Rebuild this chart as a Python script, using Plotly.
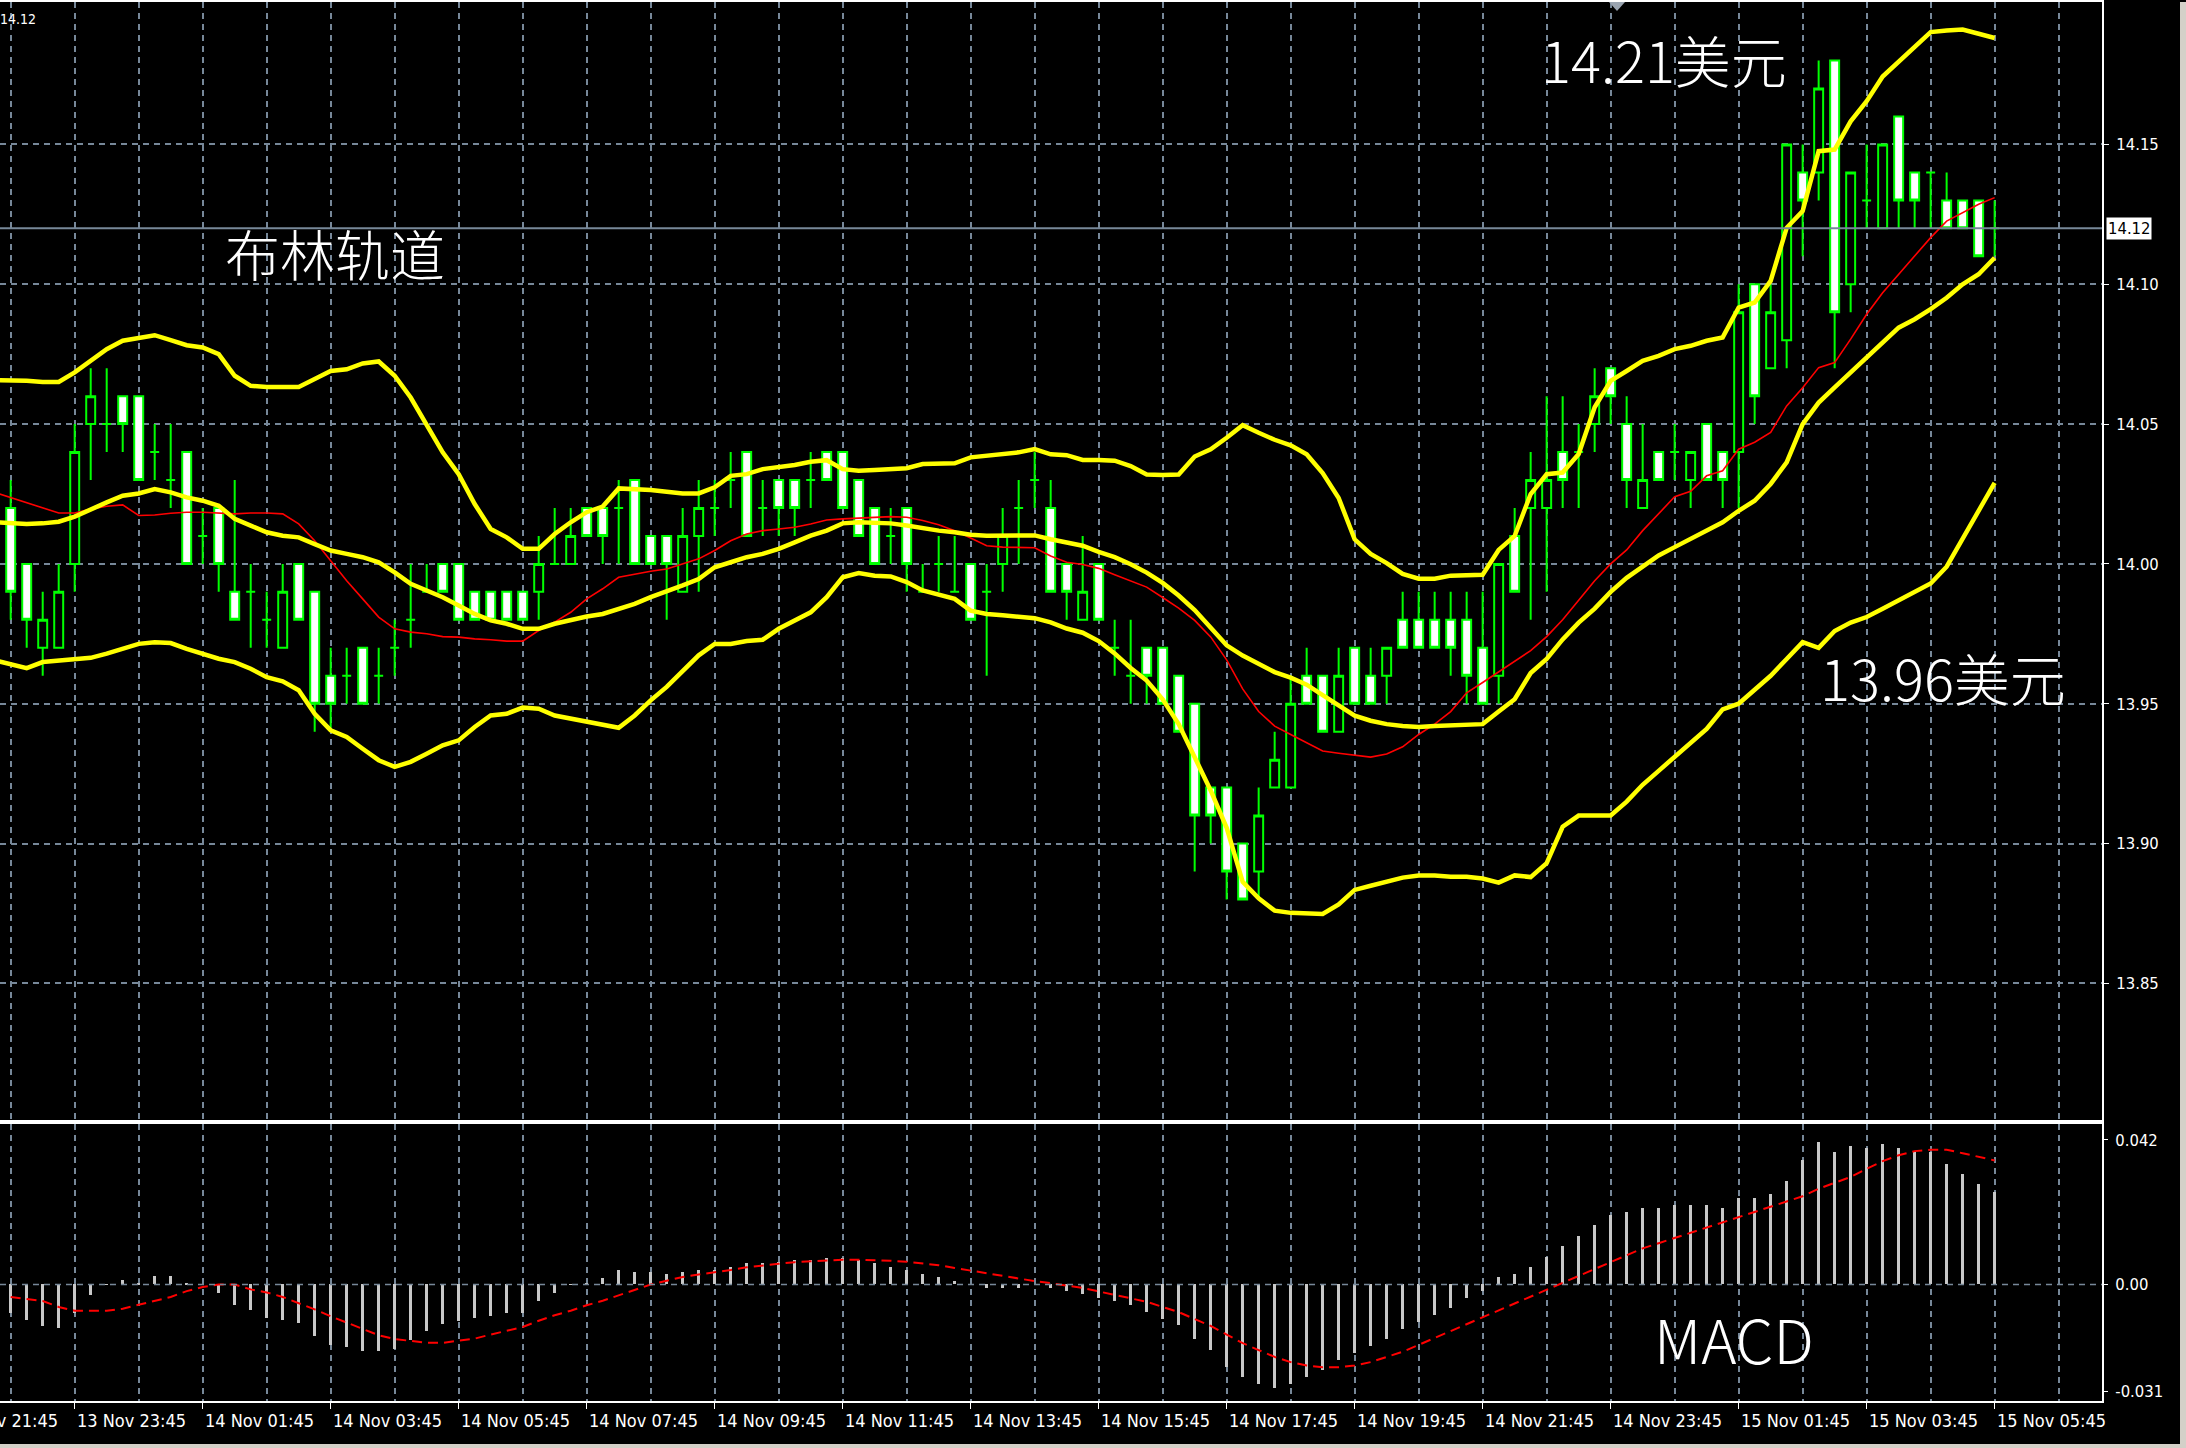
import plotly.graph_objects as go

# ---------------- data ----------------
# candle index 0 = 13 Nov 22:45, one candle per 15 minutes, last = 15 Nov 05:45
OPEN = [14.02, 14.00, 13.97, 13.97, 14.00, 14.05, 14.05, 14.06, 14.06, 14.04,
        14.03, 14.04, 14.01, 14.02, 13.99, 13.99, 13.98, 13.97, 14.00, 13.99,
        13.96, 13.96, 13.97, 13.96, 13.97, 13.98, 13.99, 14.00, 14.00, 13.99,
        13.99, 13.99, 13.99, 13.99, 14.00, 14.00, 14.02, 14.02, 14.02, 14.03,
        14.01, 14.01, 13.99, 14.01, 14.02, 14.03, 14.04, 14.02, 14.03, 14.03,
        14.03, 14.04, 14.04, 14.03, 14.02, 14.01, 14.02, 13.99, 14.00, 13.99,
        14.00, 13.99, 14.00, 14.02, 14.03, 14.02, 14.00, 13.98, 14.00, 13.97,
        13.96, 13.97, 13.97, 13.96, 13.95, 13.92, 13.92, 13.90, 13.89, 13.92,
        13.92, 13.96, 13.96, 13.94, 13.97, 13.96, 13.96, 13.98, 13.98, 13.98,
        13.98, 13.98, 13.97, 13.96, 14.01, 14.02, 14.02, 14.04, 14.04, 14.05,
        14.07, 14.05, 14.02, 14.04, 14.04, 14.03, 14.05, 14.04, 14.04, 14.10,
        14.07, 14.08, 14.14, 14.14, 14.18, 14.10, 14.13, 14.12, 14.16, 14.14,
        14.14, 14.13, 14.13, 14.13, 14.12]
HIGH = [14.03, 14.00, 13.99, 14.00, 14.05, 14.07, 14.07, 14.06, 14.06, 14.05,
        14.05, 14.04, 14.02, 14.02, 14.03, 14.00, 13.99, 14.00, 14.00, 13.99,
        13.97, 13.97, 13.97, 13.97, 13.98, 14.00, 14.00, 14.00, 14.00, 13.99,
        13.99, 13.99, 13.99, 14.01, 14.02, 14.02, 14.02, 14.02, 14.03, 14.03,
        14.01, 14.01, 14.02, 14.03, 14.03, 14.04, 14.04, 14.03, 14.03, 14.03,
        14.04, 14.04, 14.04, 14.03, 14.02, 14.02, 14.02, 14.00, 14.01, 14.01,
        14.00, 14.00, 14.02, 14.03, 14.04, 14.03, 14.00, 14.01, 14.00, 13.98,
        13.98, 13.97, 13.97, 13.96, 13.95, 13.92, 13.92, 13.90, 13.92, 13.94,
        13.96, 13.97, 13.96, 13.97, 13.97, 13.97, 13.97, 13.99, 13.99, 13.99,
        13.99, 13.99, 13.99, 14.00, 14.02, 14.04, 14.06, 14.06, 14.05, 14.07,
        14.07, 14.06, 14.05, 14.04, 14.05, 14.04, 14.05, 14.04, 14.10, 14.10,
        14.10, 14.15, 14.15, 14.18, 14.18, 14.14, 14.15, 14.15, 14.16, 14.14,
        14.14, 14.14, 14.13, 14.13, 14.13]
LOW = [13.98, 13.97, 13.96, 13.97, 13.99, 14.03, 14.04, 14.04, 14.03, 14.03,
       14.02, 14.00, 14.00, 13.99, 13.98, 13.97, 13.97, 13.97, 13.98, 13.94,
       13.94, 13.95, 13.95, 13.95, 13.96, 13.97, 13.99, 13.99, 13.98, 13.98,
       13.98, 13.98, 13.98, 13.98, 14.00, 14.00, 14.01, 14.00, 14.00, 14.00,
       14.00, 13.98, 13.99, 13.99, 14.01, 14.02, 14.01, 14.01, 14.01, 14.01,
       14.02, 14.03, 14.02, 14.01, 14.00, 14.00, 13.99, 13.99, 13.99, 13.99,
       13.98, 13.96, 13.99, 14.00, 14.02, 13.99, 13.98, 13.98, 13.98, 13.96,
       13.95, 13.95, 13.95, 13.94, 13.89, 13.90, 13.88, 13.88, 13.88, 13.92,
       13.92, 13.95, 13.94, 13.94, 13.95, 13.95, 13.95, 13.97, 13.97, 13.97,
       13.96, 13.95, 13.95, 13.95, 13.99, 13.98, 13.99, 14.02, 14.02, 14.04,
       14.05, 14.02, 14.02, 14.03, 14.03, 14.02, 14.03, 14.02, 14.02, 14.05,
       14.07, 14.07, 14.11, 14.13, 14.07, 14.09, 14.12, 14.12, 14.12, 14.12,
       14.12, 14.12, 14.12, 14.11, 14.11]
CLOSE = [13.99, 13.98, 13.98, 13.99, 14.04, 14.06, 14.05, 14.05, 14.03, 14.04,
         14.03, 14.00, 14.01, 14.00, 13.98, 13.99, 13.98, 13.99, 13.98, 13.95,
         13.95, 13.96, 13.95, 13.96, 13.97, 13.98, 13.99, 13.99, 13.98, 13.98,
         13.98, 13.98, 13.98, 14.00, 14.00, 14.01, 14.01, 14.01, 14.02, 14.00,
         14.00, 14.00, 14.01, 14.02, 14.02, 14.03, 14.01, 14.02, 14.02, 14.02,
         14.03, 14.03, 14.02, 14.01, 14.00, 14.01, 14.00, 13.99, 14.00, 13.99,
         13.98, 13.99, 14.01, 14.02, 14.03, 13.99, 13.99, 13.99, 13.98, 13.97,
         13.96, 13.96, 13.95, 13.94, 13.91, 13.91, 13.89, 13.88, 13.91, 13.93,
         13.95, 13.95, 13.94, 13.96, 13.95, 13.95, 13.97, 13.97, 13.97, 13.97,
         13.97, 13.96, 13.95, 14.00, 13.99, 14.03, 14.03, 14.03, 14.04, 14.06,
         14.06, 14.03, 14.03, 14.03, 14.04, 14.04, 14.03, 14.03, 14.09, 14.06,
         14.09, 14.15, 14.13, 14.17, 14.09, 14.14, 14.13, 14.15, 14.13, 14.13,
         14.14, 14.12, 14.12, 14.11, 14.12]

# indicator lines start one bar before the first visible candle (index -1)
BB_UPPER = [14.0657, 14.0657, 14.0655, 14.0651, 14.0651, 14.0685, 14.0729, 14.0768, 14.0798, 14.0806,
            14.0818, 14.0800, 14.0782, 14.0774, 14.0750, 14.0673, 14.0637, 14.0633, 14.0633, 14.0633,
            14.0661, 14.0690, 14.0696, 14.0717, 14.0724, 14.0673, 14.0595, 14.0500, 14.0399, 14.0321,
            14.0214, 14.0125, 14.0095, 14.0054, 14.0054, 14.0107, 14.0149, 14.0185, 14.0205, 14.0270,
            14.0268, 14.0264, 14.0258, 14.0252, 14.0252, 14.0274, 14.0315, 14.0321, 14.0339, 14.0345,
            14.0354, 14.0365, 14.0371, 14.0339, 14.0333, 14.0336, 14.0339, 14.0342, 14.0357, 14.0357,
            14.0360, 14.0381, 14.0387, 14.0393, 14.0399, 14.0411, 14.0392, 14.0389, 14.0372, 14.0372,
            14.0369, 14.0350, 14.0320, 14.0318, 14.0320, 14.0384, 14.0410, 14.0451, 14.0496, 14.0469,
            14.0444, 14.0424, 14.0392, 14.0325, 14.0236, 14.0088, 14.0036, 14.0003, 13.9964, 13.9947,
            13.9947, 13.9958, 13.9961, 13.9961, 14.0050, 14.0100, 14.0250, 14.0321, 14.0327, 14.0393,
            14.0560, 14.0655, 14.0690, 14.0726, 14.0744, 14.0768, 14.0780, 14.0798, 14.0810, 14.0917,
            14.0935, 14.1012, 14.1202, 14.1262, 14.1476, 14.1482, 14.1583, 14.1655, 14.1743, 14.1795,
            14.1850, 14.1902, 14.1908, 14.1911, 14.1896, 14.1881]
BB_MIDDLE = [14.0149, 14.0145, 14.0143, 14.0145, 14.0151, 14.0169, 14.0196, 14.0220, 14.0244, 14.0252,
             14.0268, 14.0256, 14.0238, 14.0226, 14.0208, 14.0161, 14.0137, 14.0113, 14.0101, 14.0095,
             14.0071, 14.0048, 14.0036, 14.0024, 14.0006, 13.9970, 13.9929, 13.9905, 13.9881, 13.9851,
             13.9821, 13.9798, 13.9786, 13.9768, 13.9768, 13.9786, 13.9800, 13.9812, 13.9821, 13.9839,
             13.9857, 13.9881, 13.9901, 13.9923, 13.9946, 13.9988, 14.0006, 14.0024, 14.0036, 14.0054,
             14.0077, 14.0101, 14.0119, 14.0145, 14.0149, 14.0149, 14.0145, 14.0137, 14.0127, 14.0119,
             14.0113, 14.0104, 14.0101, 14.0101, 14.0101, 14.0102, 14.0088, 14.0077, 14.0065, 14.0043,
             14.0024, 13.9999, 13.9969, 13.9932, 13.9887, 13.9835, 13.9769, 13.9709, 13.9672, 13.9642,
             13.9613, 13.9593, 13.9568, 13.9531, 13.9494, 13.9457, 13.9439, 13.9427, 13.9420, 13.9417,
             13.9420, 13.9423, 13.9424, 13.9427, 13.9472, 13.9516, 13.9610, 13.9660, 13.9730, 13.9790,
             13.9840, 13.9900, 13.9950, 13.9990, 14.0030, 14.0060, 14.0089, 14.0119, 14.0149, 14.0190,
             14.0226, 14.0286, 14.0363, 14.0500, 14.0577, 14.0631, 14.0685, 14.0738, 14.0792, 14.0845,
             14.0875, 14.0911, 14.0952, 14.1000, 14.1036, 14.1095]
BB_LOWER = [13.9655, 13.9639, 13.9627, 13.9649, 13.9655, 13.9657, 13.9664, 13.9679, 13.9696, 13.9714,
            13.9720, 13.9717, 13.9696, 13.9679, 13.9661, 13.9649, 13.9625, 13.9595, 13.9580, 13.9548,
            13.9464, 13.9405, 13.9381, 13.9339, 13.9298, 13.9274, 13.9292, 13.9321, 13.9351, 13.9369,
            13.9417, 13.9458, 13.9464, 13.9486, 13.9482, 13.9458, 13.9446, 13.9435, 13.9426, 13.9414,
            13.9458, 13.9512, 13.9560, 13.9619, 13.9673, 13.9714, 13.9714, 13.9724, 13.9729, 13.9768,
            13.9798, 13.9827, 13.9881, 13.9952, 13.9967, 13.9958, 13.9955, 13.9935, 13.9905, 13.9890,
            13.9875, 13.9833, 13.9821, 13.9816, 13.9813, 13.9806, 13.9791, 13.9769, 13.9754, 13.9724,
            13.9680, 13.9628, 13.9583, 13.9516, 13.9427, 13.9309, 13.9190, 13.9056, 13.8863, 13.8804,
            13.8760, 13.8752, 13.8748, 13.8748, 13.8782, 13.8834, 13.8849, 13.8864, 13.8878, 13.8886,
            13.8886, 13.8881, 13.8881, 13.8875, 13.8860, 13.8886, 13.8880, 13.8930, 13.9060, 13.9100,
            13.9100, 13.9100, 13.9150, 13.9210, 13.9260, 13.9310, 13.9360, 13.9410, 13.9480, 13.9500,
            13.9550, 13.9600, 13.9660, 13.9720, 13.9700, 13.9760, 13.9790, 13.9810, 13.9840, 13.9870,
            13.9900, 13.9930, 13.9990, 14.0090, 14.0190, 14.0290]
MA_RED = [14.0256, 14.0238, 14.0220, 14.0202, 14.0182, 14.0182, 14.0196, 14.0206, 14.0211, 14.0173,
          14.0175, 14.0181, 14.0185, 14.0185, 14.0182, 14.0179, 14.0182, 14.0182, 14.0179, 14.0143,
          14.0083, 14.0012, 13.9940, 13.9875, 13.9810, 13.9768, 13.9756, 13.9750, 13.9740, 13.9738,
          13.9732, 13.9729, 13.9724, 13.9724, 13.9762, 13.9792, 13.9827, 13.9875, 13.9911, 13.9952,
          13.9964, 13.9974, 13.9982, 14.0000, 14.0018, 14.0048, 14.0083, 14.0107, 14.0119, 14.0125,
          14.0131, 14.0143, 14.0157, 14.0161, 14.0164, 14.0167, 14.0169, 14.0167, 14.0155, 14.0140,
          14.0119, 14.0093, 14.0065, 14.0060, 14.0060, 14.0058, 14.0028, 14.0006, 13.9998, 13.9984,
          13.9961, 13.9939, 13.9917, 13.9880, 13.9842, 13.9798, 13.9739, 13.9657, 13.9553, 13.9472,
          13.9420, 13.9390, 13.9360, 13.9331, 13.9323, 13.9316, 13.9309, 13.9320, 13.9346, 13.9390,
          13.9427, 13.9472, 13.9539, 13.9576, 13.9613, 13.9650, 13.9690, 13.9740, 13.9800, 13.9870,
          13.9940, 14.0000, 14.0050, 14.0119, 14.0180, 14.0240, 14.0260, 14.0315, 14.0333, 14.0410,
          14.0435, 14.0470, 14.0565, 14.0630, 14.0702, 14.0720, 14.0804, 14.0893, 14.0970, 14.1036,
          14.1101, 14.1167, 14.1226, 14.1256, 14.1286, 14.1310]

MACD_HIST = [-0.0084, -0.0103, -0.0121, -0.0126, -0.0084, -0.0031, -0.0002, 0.0013, 0.0003, 0.0024,
             0.0024, 0.0001, -0.0001, -0.0026, -0.0062, -0.0074, -0.0098, -0.0103, -0.0113, -0.0150,
             -0.0176, -0.0183, -0.0195, -0.0195, -0.0188, -0.0161, -0.0137, -0.0115, -0.0108, -0.0098,
             -0.0092, -0.0084, -0.0084, -0.0050, -0.0026, -0.0002, 0.0001, 0.0017, 0.0042, 0.0034,
             0.0034, 0.0030, 0.0034, 0.0042, 0.0040, 0.0050, 0.0060, 0.0060, 0.0065, 0.0070,
             0.0070, 0.0075, 0.0075, 0.0070, 0.0060, 0.0050, 0.0040, 0.0030, 0.0020, 0.0010,
             0.0000, -0.0010, -0.0010, -0.0010, 0.0000, -0.0010, -0.0020, -0.0030, -0.0040, -0.0050,
             -0.0060, -0.0080, -0.0100, -0.0120, -0.0160, -0.0190, -0.0240, -0.0270, -0.0290, -0.0300,
             -0.0290, -0.0270, -0.0250, -0.0220, -0.0200, -0.0180, -0.0160, -0.0130, -0.0110, -0.0090,
             -0.0070, -0.0040, -0.0020, 0.0020, 0.0030, 0.0050, 0.0080, 0.0110, 0.0140, 0.0170,
             0.0200, 0.0210, 0.0220, 0.0220, 0.0230, 0.0230, 0.0230, 0.0220, 0.0250, 0.0250,
             0.0260, 0.0300, 0.0360, 0.0413, 0.0384, 0.0401, 0.0394, 0.0407, 0.0394, 0.0384,
             0.0384, 0.0349, 0.0320, 0.0291, 0.0267]
MACD_SIGNAL = [-0.0036, -0.0043, -0.0048, -0.0065, -0.0076, -0.0076, -0.0076, -0.0070, -0.0059, -0.0047,
               -0.0036, -0.0019, -0.0007, 0.0000, 0.0000, -0.0014, -0.0023, -0.0036, -0.0053, -0.0072,
               -0.0092, -0.0111, -0.0130, -0.0147, -0.0158, -0.0163, -0.0169, -0.0169, -0.0163, -0.0157,
               -0.0145, -0.0134, -0.0123, -0.0105, -0.0089, -0.0076, -0.0060, -0.0047, -0.0031, -0.0015,
               0.0000, 0.0011, 0.0022, 0.0029, 0.0035, 0.0042, 0.0050, 0.0056, 0.0060, 0.0065,
               0.0068, 0.0070, 0.0072, 0.0072, 0.0071, 0.0069, 0.0066, 0.0062, 0.0056, 0.0048,
               0.0040, 0.0032, 0.0024, 0.0016, 0.0010, 0.0004, -0.0003, -0.0010, -0.0020, -0.0030,
               -0.0040, -0.0050, -0.0065, -0.0080, -0.0100, -0.0120, -0.0145, -0.0170, -0.0190, -0.0210,
               -0.0225, -0.0235, -0.0240, -0.0240, -0.0235, -0.0225, -0.0210, -0.0195, -0.0175, -0.0155,
               -0.0135, -0.0115, -0.0095, -0.0075, -0.0055, -0.0035, -0.0015, 0.0005, 0.0025, 0.0045,
               0.0065, 0.0085, 0.0105, 0.0120, 0.0135, 0.0150, 0.0165, 0.0180, 0.0195, 0.0210,
               0.0225, 0.0240, 0.0256, 0.0278, 0.0294, 0.0312, 0.0336, 0.0358, 0.0375, 0.0387,
               0.0391, 0.0391, 0.0381, 0.0370, 0.0360]

TIME_LABEL_IDX = [-4, 4, 12, 20, 28, 36, 44, 52, 60, 68, 76, 84, 92, 100, 108, 116, 124]
TIME_LABELS = ["13 Nov 21:45", "13 Nov 23:45", "14 Nov 01:45", "14 Nov 03:45", "14 Nov 05:45",
               "14 Nov 07:45", "14 Nov 09:45", "14 Nov 11:45", "14 Nov 13:45", "14 Nov 15:45",
               "14 Nov 17:45", "14 Nov 19:45", "14 Nov 21:45", "14 Nov 23:45", "15 Nov 01:45",
               "15 Nov 03:45", "15 Nov 05:45"]
PRICE_TICKS = [13.85, 13.90, 13.95, 14.00, 14.05, 14.10, 14.15]
MACD_TICKS = [0.042, 0.0, -0.031]
MACD_TICK_TEXT = ["0.042", "0.00", "-0.031"]
CURRENT_PRICE = 14.12

# ---------------- layout helpers ----------------
W, H = 2186, 1448
N = len(OPEN)
IDX = list(range(N))
LINE_IDX = list(range(-1, N))

PLOT_RIGHT = 2102 / W
MAIN_DOM = [1 - 1120 / H, 1.0]
MACD_DOM = [1 - 1401 / H, 1 - 1124 / H]
X_RANGE = [-0.669, 130.71]
GRID = "#778899"
NARROW = "DejaVu Sans Condensed, Liberation Sans Narrow, DejaVu Sans"
AXFONT = dict(family=NARROW, size=16.5, color="white")
TIMEFONT = dict(family=NARROW, size=18, color="white")
CJK = "Noto Sans CJK SC, Noto Sans, sans-serif"


def idx_to_paper(i):
    """paper x of a bar index, using the same linear mapping as the x axes"""
    frac = (i - X_RANGE[0]) / (X_RANGE[1] - X_RANGE[0])
    return frac * PLOT_RIGHT


fig = go.Figure()

fig.add_trace(go.Candlestick(
    x=IDX, open=OPEN, high=HIGH, low=LOW, close=CLOSE,
    increasing=dict(line=dict(color="#00FF00", width=2), fillcolor="black"),
    decreasing=dict(line=dict(color="#00FF00", width=2), fillcolor="white"),
    whiskerwidth=0, xaxis="x", yaxis="y", showlegend=False, hoverinfo="skip"))

for series, color, width in [(MA_RED, "#FF0000", 1.6), (BB_UPPER, "#FFFF00", 4.5),
                             (BB_MIDDLE, "#FFFF00", 4.5), (BB_LOWER, "#FFFF00", 4.5)]:
    fig.add_trace(go.Scatter(x=LINE_IDX, y=series, mode="lines",
                             line=dict(color=color, width=width),
                             xaxis="x", yaxis="y", showlegend=False, hoverinfo="skip"))

fig.add_trace(go.Bar(x=IDX, y=MACD_HIST, width=0.11, marker=dict(color="#C8C8C8", line=dict(width=0)),
                     xaxis="x2", yaxis="y2", showlegend=False, hoverinfo="skip"))
fig.add_trace(go.Scatter(x=IDX, y=MACD_SIGNAL, mode="lines",
                         line=dict(color="#FF0000", width=2, dash="10px,6px"),
                         xaxis="x2", yaxis="y2", showlegend=False, hoverinfo="skip"))

grid_common = dict(showgrid=True, gridcolor=GRID, gridwidth=1.5, griddash="6px,5px")

fig.update_layout(
    width=W, height=H, margin=dict(l=0, r=0, t=0, b=0),
    paper_bgcolor="black", plot_bgcolor="black",
    boxgap=0.44, boxgroupgap=0, bargap=0,
    xaxis=dict(domain=[0, PLOT_RIGHT], range=X_RANGE, anchor="y",
               tick0=4, dtick=8, ticks="", showticklabels=False,
               minor=dict(tick0=0, dtick=4, ticks="", **grid_common),
               showline=True, linecolor="white", linewidth=2, mirror=True,
               zeroline=False, rangeslider=dict(visible=False), **grid_common),
    yaxis=dict(domain=MAIN_DOM, range=[13.80096, 14.20096], anchor="x", side="right",
               tickvals=PRICE_TICKS, tickformat=".2f", ticks="outside", ticklen=5,
               tickcolor="white", tickwidth=1, tickfont=AXFONT, ticklabelstandoff=4,
               showline=True, linecolor="white", linewidth=2, zeroline=False, **grid_common),
    xaxis2=dict(domain=[0, PLOT_RIGHT], range=X_RANGE, anchor="y2",
                tick0=4, dtick=8, ticks="outside", ticklen=6, tickcolor="white", tickwidth=1,
                showticklabels=False,
                minor=dict(tick0=0, dtick=4, ticks="", **grid_common),
                showline=True, linecolor="white", linewidth=2, mirror=True,
                zeroline=False, **grid_common),
    yaxis2=dict(domain=MACD_DOM, range=[-0.0338, 0.04644], anchor="x2", side="right",
                tickvals=MACD_TICKS, ticktext=MACD_TICK_TEXT, ticks="outside", ticklen=4,
                tickcolor="white", tickwidth=1, tickfont=AXFONT, ticklabelstandoff=4,
                showgrid=False, showline=True, linecolor="white", linewidth=2, zeroline=False),
)

# zero line of MACD panel
fig.add_shape(type="line", xref="x2 domain", yref="y2", x0=0, x1=1, y0=0, y1=0,
              line=dict(color=GRID, width=1.5, dash="6px,5px"))
# current price line
fig.add_shape(type="line", xref="x domain", yref="y", x0=0, x1=1, y0=CURRENT_PRICE, y1=CURRENT_PRICE,
              line=dict(color=GRID, width=2))
# chart-shift marker at the top
fig.add_shape(type="path", xref="paper", yref="paper",
              path=f"M {1609/W} 1 L {1625/W} 1 L {1617/W} {1-9/H} Z",
              fillcolor="#9AA4B0", line=dict(width=0))
# window frame strips
fig.add_shape(type="rect", xref="paper", yref="paper", x0=2180 / W, x1=1, y0=0, y1=1,
              fillcolor="#D4D0C8", line=dict(width=0))
fig.add_shape(type="rect", xref="paper", yref="paper", x0=0, x1=1, y0=0, y1=4 / H,
              fillcolor="#D4D0C8", line=dict(width=0))

# current price box
fig.add_annotation(xref="paper", yref="y", x=2106 / W, y=CURRENT_PRICE, text="14.12",
                   showarrow=False, xanchor="left", yanchor="middle",
                   bgcolor="white", font=dict(family=NARROW, size=16.5, color="black"),
                   borderpad=1)
fig.add_annotation(xref="paper", yref="paper", x=-0.001, y=1 - 17 / H, text="14.12",
                   showarrow=False, xanchor="left", yanchor="middle",
                   font=dict(family=NARROW, size=14, color="white"))

# time labels (left aligned at their tick; the first one is cut by the window edge)
for i, lab in zip(TIME_LABEL_IDX, TIME_LABELS):
    fig.add_annotation(xref="paper", yref="paper", x=idx_to_paper(i), y=1 - 1420 / H, text=lab,
                       showarrow=False, xanchor="left", yanchor="middle",
                       font=TIMEFONT)

# chart captions
CAPTIONS = [("布林轨道", 335, 250, 55), ("14.21美元", 1664, 57, 56),
            ("13.96美元", 1943, 675, 56), ("MACD", 1734, 1337, 60)]
for text, px, py, size in CAPTIONS:
    fig.add_annotation(xref="paper", yref="paper", x=px / W, y=1 - py / H, text=text,
                       showarrow=False, xanchor="center", yanchor="middle",
                       font=dict(family=CJK, size=size, color="white", weight=300))

fig.write_html("out.html", config={"displayModeBar": False},
               post_script="document.body.style.margin='0px';document.body.style.overflow='hidden';")
